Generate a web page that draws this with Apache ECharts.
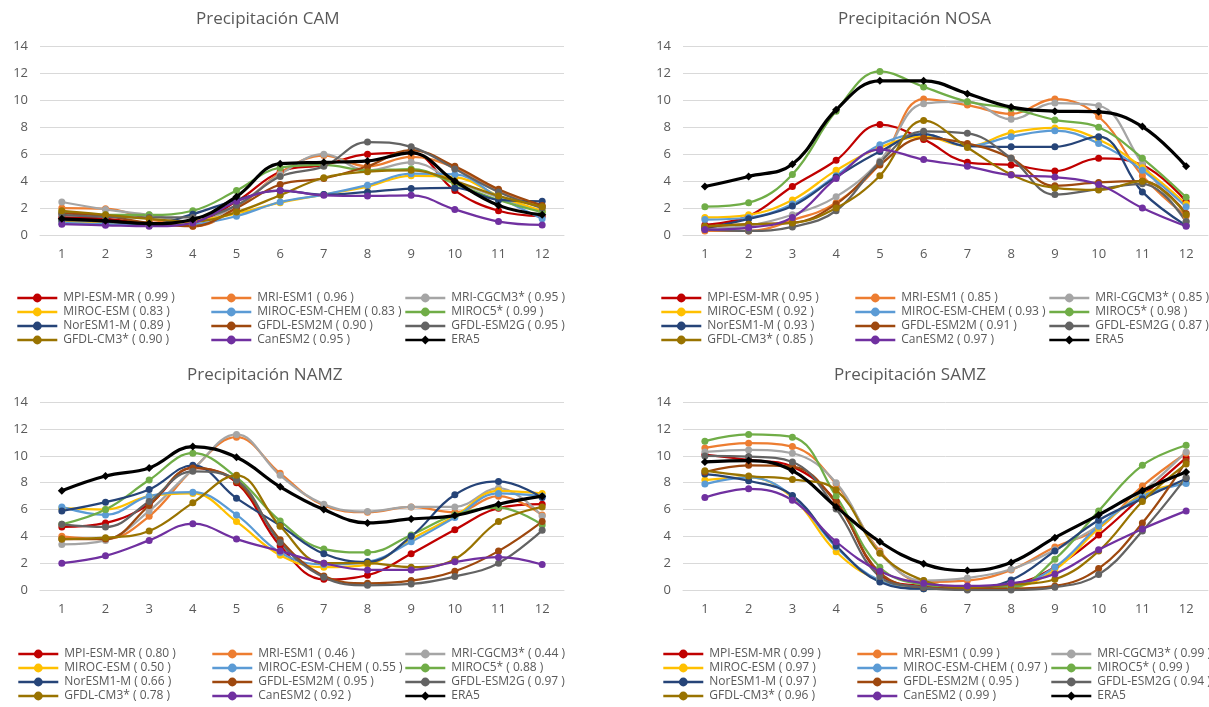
<!DOCTYPE html>
<html>
<head>
<meta charset="utf-8">
<script src="https://cdn.jsdelivr.net/npm/echarts@6/dist/echarts.min.js"></script>
<style>
  html, body { margin: 0; padding: 0; background: #ffffff; }
  #chart { width: 1209px; height: 707px; }
</style>
</head>
<body>
<div id="chart"></div>
<script>
// Monthly precipitation (mm/day) per region: CMIP5 models vs ERA5
const MONTHS = ['1', '2', '3', '4', '5', '6', '7', '8', '9', '10', '11', '12'];
const MODELS = ['MPI-ESM-MR', 'MRI-ESM1', 'MRI-CGCM3*', 'MIROC-ESM', 'MIROC-ESM-CHEM', 'MIROC5*',
                'NorESM1-M', 'GFDL-ESM2M', 'GFDL-ESM2G', 'GFDL-CM3*', 'CanESM2'];
const REGIONS = ['CAM', 'NOSA', 'NAMZ', 'SAMZ'];

// Correlation with ERA5, in MODELS order
const corrCAM  = [0.99, 0.96, 0.95, 0.83, 0.83, 0.99, 0.89, 0.90, 0.95, 0.90, 0.95];
const corrNOSA = [0.95, 0.85, 0.85, 0.92, 0.93, 0.98, 0.93, 0.91, 0.87, 0.85, 0.97];
const corrNAMZ = [0.80, 0.46, 0.44, 0.50, 0.55, 0.88, 0.66, 0.95, 0.97, 0.78, 0.92];
const corrSAMZ = [0.99, 0.99, 0.99, 0.97, 0.97, 0.99, 0.97, 0.95, 0.94, 0.96, 0.99];

// CAM
const camMPI   = [1.3, 1.2, 0.9, 1.0, 2.5, 4.7, 5.2, 6.0, 6.1, 3.3, 1.8, 1.4];
const camMRI1  = [2.0, 1.95, 1.2, 0.65, 2.0, 4.6, 5.9, 5.1, 5.8, 5.0, 3.3, 2.1];
const camMRI3  = [2.45, 1.9, 1.5, 1.0, 2.2, 4.5, 6.0, 4.8, 5.4, 4.0, 2.8, 1.7];
const camMIR   = [1.0, 0.85, 0.7, 1.0, 1.6, 2.4, 3.0, 3.6, 4.4, 4.3, 2.9, 1.8];
const camMIRC  = [0.9, 0.8, 0.7, 0.8, 1.4, 2.45, 3.0, 3.7, 4.55, 4.5, 2.8, 1.2];
const camMIR5  = [1.7, 1.5, 1.5, 1.8, 3.3, 5.0, 5.2, 4.8, 4.9, 3.8, 2.6, 1.7];
const camNOR   = [1.1, 1.0, 0.8, 1.55, 2.6, 3.3, 3.0, 3.2, 3.45, 3.5, 2.6, 2.5];
const camGFM   = [1.6, 1.4, 0.9, 0.65, 2.0, 3.75, 4.2, 5.1, 6.3, 5.1, 3.4, 2.2];
const camGFG   = [1.5, 1.35, 1.3, 1.3, 2.2, 4.35, 5.1, 6.9, 6.55, 4.9, 3.2, 2.0];
const camCM3   = [1.8, 1.5, 1.2, 1.0, 1.7, 2.95, 4.25, 4.7, 4.8, 4.0, 2.9, 2.1];
const camCAN   = [0.8, 0.72, 0.65, 0.9, 2.5, 3.3, 2.95, 2.9, 2.95, 1.9, 1.0, 0.75];
const camERA5  = [1.2, 1.05, 0.85, 1.15, 2.85, 5.3, 5.4, 5.5, 6.1, 4.0, 2.2, 1.5];

// NOSA
const nosaMPI  = [0.75, 1.4, 3.6, 5.55, 8.2, 7.1, 5.4, 5.2, 4.75, 5.7, 5.2, 2.5];
const nosaMRI1 = [0.3, 0.3, 1.1, 2.4, 5.3, 10.1, 9.65, 9.0, 10.1, 8.8, 4.4, 1.4];
const nosaMRI3 = [0.5, 0.7, 1.5, 2.85, 5.5, 9.75, 9.9, 8.6, 9.8, 9.6, 5.3, 1.0];
const nosaMIR  = [1.3, 1.5, 2.6, 4.8, 6.5, 7.3, 6.6, 7.6, 7.95, 7.1, 5.0, 2.3];
const nosaMIRC = [1.15, 1.3, 2.3, 4.4, 6.7, 7.5, 6.6, 7.3, 7.75, 6.8, 4.8, 2.1];
const nosaMIR5 = [2.1, 2.4, 4.5, 9.2, 12.15, 11.0, 9.9, 9.4, 8.55, 8.0, 5.7, 2.8];
const nosaNOR  = [0.5, 1.2, 2.15, 4.3, 6.2, 7.5, 6.6, 6.55, 6.55, 7.3, 3.2, 0.7];
const nosaGFM  = [0.6, 0.8, 0.9, 2.3, 5.2, 7.2, 6.8, 5.7, 3.65, 3.9, 4.0, 1.6];
const nosaGFG  = [0.4, 0.3, 0.6, 1.8, 5.4, 7.7, 7.55, 5.7, 3.0, 3.4, 3.8, 1.0];
const nosaCM3  = [0.65, 0.8, 0.9, 2.0, 4.4, 8.5, 6.5, 4.5, 3.5, 3.35, 4.0, 1.5];
const nosaCAN  = [0.4, 0.55, 1.3, 4.2, 6.35, 5.6, 5.1, 4.45, 4.3, 3.75, 2.0, 0.65];
const nosaERA5 = [3.6, 4.35, 5.25, 9.3, 11.45, 11.45, 10.5, 9.5, 9.2, 9.15, 8.05, 5.1];

// NAMZ
const namzMPI  = [4.7, 5.0, 6.4, 9.1, 8.0, 3.3, 0.8, 1.1, 2.7, 4.5, 6.1, 6.4];
const namzMRI1 = [4.0, 3.8, 5.5, 9.0, 11.4, 8.7, 6.3, 5.8, 6.2, 5.8, 7.0, 5.6];
const namzMRI3 = [3.4, 3.7, 5.9, 9.0, 11.6, 8.55, 6.4, 5.85, 6.2, 6.2, 7.6, 5.5];
const namzMIR  = [6.1, 6.0, 7.0, 7.2, 5.1, 2.6, 1.7, 1.9, 3.8, 5.5, 7.4, 7.2];
const namzMIRC = [6.2, 5.6, 7.0, 7.3, 5.6, 2.8, 1.9, 2.1, 3.6, 5.4, 7.2, 7.0];
const namzMIR5 = [4.9, 6.0, 8.2, 10.2, 8.4, 5.15, 3.05, 2.8, 4.1, 5.6, 6.15, 4.85];
const namzNOR  = [5.9, 6.55, 7.5, 9.3, 6.85, 4.8, 2.7, 2.1, 4.0, 7.1, 8.1, 6.9];
const namzGFM  = [3.8, 3.8, 6.3, 9.1, 8.1, 3.75, 1.05, 0.5, 0.7, 1.4, 2.9, 5.1];
const namzGFG  = [4.9, 4.7, 6.6, 8.85, 8.2, 3.55, 0.95, 0.35, 0.45, 1.0, 2.0, 4.45];
const namzCM3  = [3.8, 3.9, 4.4, 6.5, 8.55, 4.75, 2.0, 2.0, 1.7, 2.3, 5.1, 6.2];
const namzCAN  = [2.0, 2.55, 3.7, 4.95, 3.8, 2.9, 2.0, 1.5, 1.5, 2.1, 2.45, 1.9];
const namzERA5 = [7.4, 8.5, 9.1, 10.7, 9.9, 7.7, 6.0, 5.0, 5.3, 5.55, 6.4, 7.0];

// SAMZ
const samzMPI  = [10.1, 9.7, 9.2, 6.6, 1.2, 0.3, 0.2, 0.4, 1.7, 4.1, 7.0, 9.85];
const samzMRI1 = [10.6, 10.95, 10.7, 7.9, 2.9, 0.6, 0.7, 1.5, 3.2, 4.6, 7.75, 10.2];
const samzMRI3 = [10.3, 10.45, 10.2, 8.0, 2.8, 0.7, 0.9, 1.55, 3.0, 4.8, 7.3, 10.3];
const samzMIR  = [8.2, 8.4, 6.9, 2.85, 0.7, 0.1, 0.1, 0.2, 1.5, 4.6, 7.1, 8.0];
const samzMIRC = [7.9, 8.4, 7.0, 3.2, 0.7, 0.1, 0.1, 0.3, 1.7, 4.75, 7.0, 7.95];
const samzMIR5 = [11.1, 11.6, 11.4, 7.0, 1.7, 0.4, 0.2, 0.2, 2.3, 5.9, 9.3, 10.8];
const samzNOR  = [8.65, 8.15, 7.05, 3.3, 0.6, 0.1, 0.1, 0.75, 2.9, 5.2, 6.8, 8.3];
const samzGFM  = [8.8, 9.3, 9.2, 6.5, 1.3, 0.2, 0.1, 0.1, 0.3, 1.6, 5.0, 9.6];
const samzGFG  = [10.0, 9.95, 9.55, 6.05, 1.0, 0.2, 0.0, 0.0, 0.2, 1.15, 4.4, 8.4];
const samzCM3  = [8.9, 8.5, 8.25, 7.45, 2.75, 0.7, 0.2, 0.4, 0.8, 2.9, 6.6, 9.4];
const samzCAN  = [6.9, 7.55, 6.7, 3.6, 1.4, 0.5, 0.3, 0.5, 1.2, 3.0, 4.55, 5.9];
const samzERA5 = [9.55, 9.65, 8.9, 6.2, 3.6, 1.95, 1.45, 2.05, 3.9, 5.6, 7.4, 8.8];

// Grouping of the arrays above by region (MODELS order)
const modelData = [
  [camMPI, camMRI1, camMRI3, camMIR, camMIRC, camMIR5, camNOR, camGFM, camGFG, camCM3, camCAN],
  [nosaMPI, nosaMRI1, nosaMRI3, nosaMIR, nosaMIRC, nosaMIR5, nosaNOR, nosaGFM, nosaGFG, nosaCM3, nosaCAN],
  [namzMPI, namzMRI1, namzMRI3, namzMIR, namzMIRC, namzMIR5, namzNOR, namzGFM, namzGFG, namzCM3, namzCAN],
  [samzMPI, samzMRI1, samzMRI3, samzMIR, samzMIRC, samzMIR5, samzNOR, samzGFM, samzGFG, samzCM3, samzCAN]
];
const eraData = [camERA5, nosaERA5, namzERA5, samzERA5];
const corrData = [corrCAM, corrNOSA, corrNAMZ, corrSAMZ];

// Styling
const MODEL_COLORS = ['#C00000', '#ED7D31', '#A5A5A5', '#FFC000', '#5B9BD5', '#70AD47',
                      '#264478', '#9E480E', '#636363', '#997300', '#7030A0'];
const TEXT = '#595959';
const GRID_LINE = '#D9D9D9';
const FONT = 'Open Sans';

// Panel geometry: grid box, title position, legend top and legend column lefts
const layout = [
  { left: 40,  top: 46.5,  w: 524, h: 188.5, tl: 196, tt: 11,  lt: 291, cols: [16, 210, 404] },
  { left: 683, top: 46.5,  w: 525, h: 188.5, tl: 838, tt: 11,  lt: 291, cols: [660, 854, 1048] },
  { left: 40,  top: 402.3, w: 524, h: 187.7, tl: 187, tt: 367, lt: 647, cols: [17, 211, 404] },
  { left: 683, top: 402.3, w: 525, h: 187.7, tl: 834, tt: 367, lt: 647, cols: [662, 856, 1050] }
];

const label = (name, r) => name + ' ( ' + r.toFixed(2) + ' )';

const option = {
  animation: false,
  backgroundColor: '#ffffff',
  textStyle: { fontFamily: FONT },
  title: [], grid: [], xAxis: [], yAxis: [], legend: [], series: []
};

REGIONS.forEach((reg, p) => {
  const L = layout[p];
  option.title.push({
    text: 'Precipitación ' + reg,
    left: L.tl, top: L.tt, padding: 0,
    textStyle: { fontFamily: FONT, fontSize: 17, fontWeight: 'normal', color: TEXT }
  });
  option.grid.push({ left: L.left, top: L.top, width: L.w, height: L.h, containLabel: false });
  option.xAxis.push({
    type: 'category', gridIndex: p, data: MONTHS, boundaryGap: true,
    axisLine: { show: true, lineStyle: { color: GRID_LINE, width: 1 } },
    axisTick: { show: false },
    axisLabel: { color: TEXT, fontSize: 13, margin: 13, fontFamily: FONT }
  });
  option.yAxis.push({
    type: 'value', gridIndex: p, min: 0, max: 14, interval: 2,
    axisLine: { show: false }, axisTick: { show: false },
    splitLine: { lineStyle: { color: GRID_LINE, width: 1 } },
    axisLabel: { color: TEXT, fontSize: 13, margin: 12, fontFamily: FONT }
  });

  const names = MODELS.map((m, i) => label(m, corrData[p][i]));
  names.forEach((nm, i) => {
    option.series.push({
      name: nm, type: 'line', xAxisIndex: p, yAxisIndex: p,
      data: modelData[p][i], smooth: 0.4,
      symbol: 'circle', symbolSize: 7,
      lineStyle: { width: 2.25, color: MODEL_COLORS[i] },
      itemStyle: { color: MODEL_COLORS[i] },
      z: 2
    });
  });
  option.series.push({
    name: 'ERA5', type: 'line', xAxisIndex: p, yAxisIndex: p,
    data: eraData[p], smooth: 0.4,
    symbol: 'diamond', symbolSize: 8,
    lineStyle: { width: 3.2, color: '#000000' },
    itemStyle: { color: '#000000' },
    z: 3
  });

  // Three legend columns per panel, read row by row
  const all = names.concat(['ERA5']);
  [0, 1, 2].forEach(c => {
    option.legend.push({
      data: all.filter((_, k) => k % 3 === c),
      orient: 'vertical', left: L.cols[c], top: L.lt, padding: 0,
      itemWidth: 40, itemHeight: 11, itemGap: 0,
      selectedMode: false,
      lineStyle: { width: 2.6 },
      textStyle: { fontFamily: FONT, fontSize: 12, color: TEXT, lineHeight: 14, padding: [0, 0, 0, 1] }
    });
  });
});

const chart = echarts.init(document.getElementById('chart'), null, { renderer: 'canvas' });
chart.setOption(option);
</script>
</body>
</html>
